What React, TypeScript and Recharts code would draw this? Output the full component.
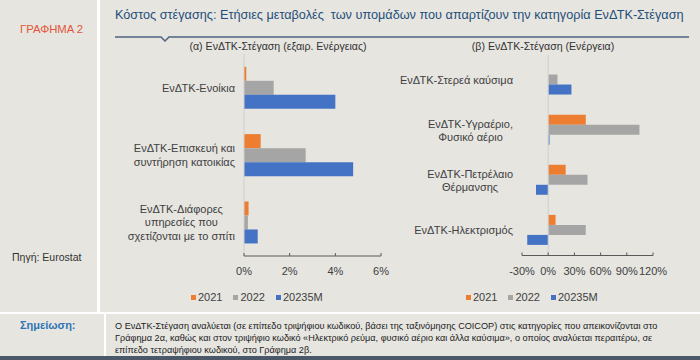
import React from 'react';
import { BarChart, Bar, XAxis, YAxis, ReferenceLine } from 'recharts';

const seriesNames = ['2021', '2022', '20235M'];
const seriesColors = ['#ED7D31', '#A5A5A5', '#4472C4'];

const catsA = [
  'ΕνΔΤΚ-Ενοίκια',
  'ΕνΔΤΚ-Επισκευή και\nσυντήρηση κατοικίας',
  'ΕνΔΤΚ-Διάφορες\nυπηρεσίες που\nσχετίζονται με το σπίτι',
];
const a2021 = [0.1, 0.73, 0.2];
const a2022 = [1.3, 2.7, 0.17];
const a2023 = [4.0, 4.78, 0.6];
const ticksA = [0, 2, 4, 6];

const catsB = [
  'ΕνΔΤΚ-Στερεά καύσιμα',
  'ΕνΔΤΚ-Υγραέριο,\nΦυσικό αέριο',
  'ΕνΔΤΚ-Πετρέλαιο\nΘέρμανσης',
  'ΕνΔΤΚ-Ηλεκτρισμός',
];
const b2021 = [0, 43, 20, 8.4];
const b2022 = [10.6, 104.5, 45, 43];
const b2023 = [26.6, 1.5, -14, -24];
const ticksB = [-30, 0, 30, 60, 90, 120];

const dataA = catsA.map((c, i) => ({ cat: c, s0: a2021[i], s1: a2022[i], s2: a2023[i] }));
const dataB = catsB.map((c, i) => ({ cat: c, s0: b2021[i], s1: b2022[i], s2: b2023[i] }));

const FONT = '"Liberation Sans", Arial, Helvetica, sans-serif';
const TXT = '#404040';

let ctx: CanvasRenderingContext2D | null = null;
function measure(t: string, size: number) {
  if (!ctx) ctx = document.createElement('canvas').getContext('2d');
  if (!ctx) return t.length * size * 0.55;
  ctx.font = `${size}px "Liberation Sans"`;
  return ctx.measureText(t).width;
}

const CatTick = (props: any) => {
  const { x, y, payload } = props;
  const lines = String(payload.value).split('\n');
  const w = Math.max(...lines.map((l) => measure(l, 11)));
  const cx = x - 9 - w / 2;
  const lh = 13.3;
  const y0 = y - ((lines.length - 1) * lh) / 2 + 4;
  return (
    <g>
      {lines.map((l, i) => (
        <text key={i} x={cx} y={y0 + i * lh} textAnchor="middle" fontSize={11} fill={TXT} fontFamily={FONT}>
          {l}
        </text>
      ))}
    </g>
  );
};

const ValTick = (props: any) => {
  const { x, y, payload } = props;
  return (
    <g>
      <line x1={x} x2={x} y1={y} y2={y - 3} stroke="#595959" strokeWidth={1} />
      <text x={x} y={y + 19} textAnchor="middle" fontSize={11} fill={TXT} fontFamily={FONT}>
        {payload.value}%
      </text>
    </g>
  );
};

const LegendRow = ({ left, top }: { left: number; top: number }) => (
  <div style={{ position: 'absolute', left, top, display: 'flex', alignItems: 'center', fontFamily: FONT, fontSize: 11, color: TXT }}>
    {seriesNames.map((n, i) => (
      <div key={n} style={{ display: 'flex', alignItems: 'center', marginRight: 11 }}>
        <div style={{ width: 5, height: 5, background: seriesColors[i], marginRight: 2 }} />
        <span>{n}</span>
      </div>
    ))}
  </div>
);

export default function App() {
  return (
    <div style={{ position: 'absolute', left: 0, top: 0, width: 700, height: 360, background: '#e6e5e0', overflow: 'hidden', fontFamily: FONT }}>
      {/* separators */}
      <div style={{ position: 'absolute', left: 97, top: 0, width: 3, height: 313, background: '#ffffff' }} />
      <div style={{ position: 'absolute', left: 0, top: 312, width: 700, height: 2, background: '#ffffff' }} />
      <div style={{ position: 'absolute', left: 104, top: 314, width: 2, height: 42, background: '#ffffff' }} />
      <div style={{ position: 'absolute', left: 0, top: 356, width: 700, height: 4, background: '#4a5868' }} />

      <div style={{ position: 'absolute', left: 20, top: 23, fontSize: 11.3, color: '#e2553b' }}>ΓΡΑΦΗΜΑ 2</div>
      <div style={{ position: 'absolute', left: 12, top: 251, fontSize: 10.5, color: '#333' }}>Πηγή: Eurostat</div>
      <div style={{ position: 'absolute', left: 20, top: 319, fontSize: 11, fontWeight: 'bold', color: '#2e74b5' }}>Σημείωση:</div>
      <div style={{ position: 'absolute', left: 115, top: 320, fontSize: 9.15, color: '#222', lineHeight: '12px', whiteSpace: 'nowrap' }}>
        <div>Ο ΕνΔΤΚ-Στέγαση αναλύεται (σε επίπεδο τριψήφιου κωδικού, βάσει της ταξινόμησης COICOP) στις κατηγορίες που απεικονίζονται στο</div>
        <div>Γράφημα 2α, καθώς και στον τριψήφιο κωδικό «Ηλεκτρικό ρεύμα, φυσικό αέριο και άλλα καύσιμα», ο οποίος αναλύεται περαιτέρω, σε</div>
        <div>επίπεδο τετραψήφιου κωδικού, στο Γράφημα 2β.</div>
      </div>

      <div style={{ position: 'absolute', left: 115, top: 8, fontSize: 12.7, color: '#1f4e79', whiteSpace: 'nowrap' }}>
        Κόστος στέγασης: Ετήσιες μεταβολές&nbsp; των υπομάδων που απαρτίζουν την κατηγορία ΕνΔΤΚ-Στέγαση
      </div>
      <svg style={{ position: 'absolute', left: 0, top: 0 }} width={700} height={60}>
        <polyline points="115,37 161,37 165,41 169,37 689,37" fill="none" stroke="#4d6480" strokeWidth={1.5} />
      </svg>

      <div style={{ position: 'absolute', left: 178, top: 40, width: 200, textAlign: 'center', fontSize: 10.6, color: '#333', whiteSpace: 'nowrap' }}>
        (α) ΕνΔΤΚ-Στέγαση (εξαιρ. Ενέργειας)
      </div>
      <div style={{ position: 'absolute', left: 443, top: 40, width: 200, textAlign: 'center', fontSize: 10.6, color: '#333', whiteSpace: 'nowrap' }}>
        (β) ΕνΔΤΚ-Στέγαση (Ενέργεια)
      </div>

      <div style={{ position: 'absolute', left: 100, top: 0 }}>
        <BarChart width={300} height={300} data={dataA} layout="vertical" margin={{ top: 54, right: 19, bottom: 14, left: 0 }} barCategoryGap="19%" barGap={0}>
          <XAxis type="number" domain={[0, 6]} ticks={ticksA} interval={0} height={30} tickSize={0} tickMargin={0} tickLine={false} axisLine={{ stroke: '#595959' }} tick={(p: any) => <ValTick {...p} />} />
          <YAxis type="category" dataKey="cat" width={144} tickSize={0} tickMargin={0} tickLine={false} axisLine={false} interval={0} tick={(p: any) => <CatTick {...p} />} />
          <ReferenceLine x={0} stroke="#cfcfcf" />
          <Bar dataKey="s0" name={seriesNames[0]} fill={seriesColors[0]} isAnimationActive={false} />
          <Bar dataKey="s1" name={seriesNames[1]} fill={seriesColors[1]} isAnimationActive={false} />
          <Bar dataKey="s2" name={seriesNames[2]} fill={seriesColors[2]} isAnimationActive={false} />
        </BarChart>
      </div>

      <div style={{ position: 'absolute', left: 400, top: 0 }}>
        <BarChart width={280} height={300} data={dataB} layout="vertical" margin={{ top: 55, right: 27, bottom: 14.5, left: 0 }} barCategoryGap="19%" barGap={0}>
          <XAxis type="number" domain={[-30, 120]} ticks={ticksB} interval={0} height={30} tickSize={0} tickMargin={0} tickLine={false} axisLine={{ stroke: '#595959' }} tick={(p: any) => <ValTick {...p} />} />
          <YAxis type="category" dataKey="cat" width={122} tickSize={0} tickMargin={0} tickLine={false} axisLine={false} interval={0} tick={(p: any) => <CatTick {...p} />} />
          <ReferenceLine x={0} stroke="#cfcfcf" />
          <Bar dataKey="s0" name={seriesNames[0]} fill={seriesColors[0]} isAnimationActive={false} />
          <Bar dataKey="s1" name={seriesNames[1]} fill={seriesColors[1]} isAnimationActive={false} />
          <Bar dataKey="s2" name={seriesNames[2]} fill={seriesColors[2]} isAnimationActive={false} />
        </BarChart>
      </div>

      <LegendRow left={191} top={291} />
      <LegendRow left={466} top={291} />
    </div>
  );
}
